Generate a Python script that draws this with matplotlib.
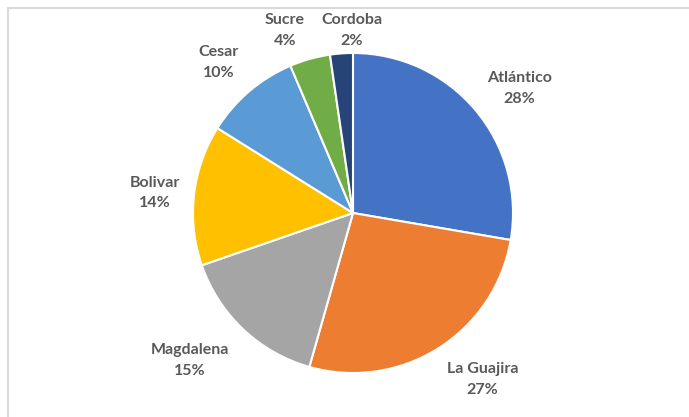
import matplotlib
matplotlib.use("Agg")
import matplotlib.pyplot as plt
from matplotlib.patches import Rectangle

# data (share of total, %)
departments = ["Atlántico", "La Guajira", "Magdalena", "Bolivar", "Cesar", "Sucre", "Cordoba"]
shares = [27.7, 26.7, 15.3, 14.2, 9.7, 4.1, 2.3]
colors = ["#4472C4", "#ED7D31", "#A5A5A5", "#FFC000", "#5B9BD5", "#70AD47", "#264478"]

# label anchor points (pie radius = 1)
label_xy = [(1.04, 0.78), (0.81, -1.04), (-1.02, -0.92), (-1.24, 0.125),
            (-0.84, 0.94), (-0.425, 1.14), (-0.006, 1.14)]

W, H, DPI = 689, 417, 100
R_PX = 160.0
CX, CY = 353, 213

fig = plt.figure(figsize=(W / DPI, H / DPI), dpi=DPI)
fig.patch.set_facecolor("white")
fig.patches.append(Rectangle((8 / W, -0.1), 1.2, 1 - 8 / H + 0.1, transform=fig.transFigure,
                             fill=False, edgecolor="#D9D9D9", linewidth=1.5))

ax = fig.add_axes([0, 0, 1, 1])
ax.pie(shares, colors=colors, startangle=90, counterclock=False,
       wedgeprops=dict(edgecolor="white", linewidth=1.5))
ax.set_xlim(-CX / R_PX, (W - CX) / R_PX)
ax.set_ylim(-(H - CY) / R_PX, CY / R_PX)
ax.set_aspect("auto")
ax.axis("off")

for name, v, (x, y) in zip(departments, shares, label_xy):
    ax.text(x, y, f"{name}\n{round(v):d}%", ha="center", va="center",
            fontsize=11.5, fontweight="bold", color="#595959", family="Lato",
            linespacing=1.6)

fig.savefig("out.png", dpi=DPI)
